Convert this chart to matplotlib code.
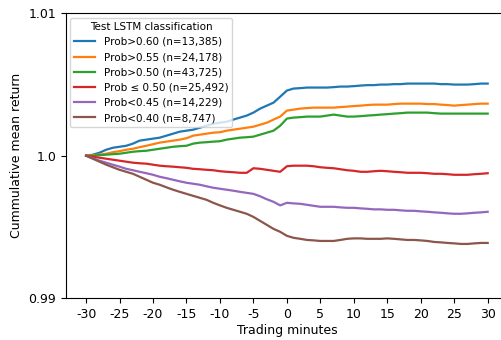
import matplotlib
matplotlib.use("Agg")
import matplotlib.pyplot as plt
import numpy as np

minutes = list(range(-30, 31))

# deviation from 1.0 in percent, one value per minute
prob_gt_060 = [0, 0.007, 0.021, 0.042, 0.056, 0.063, 0.070, 0.085, 0.106, 0.113,
               0.120, 0.127, 0.141, 0.155, 0.169, 0.176, 0.183, 0.197, 0.211, 0.225,
               0.232, 0.239, 0.254, 0.268, 0.282, 0.303, 0.331, 0.352, 0.373, 0.415,
               0.458, 0.472, 0.475, 0.479, 0.479, 0.479, 0.479, 0.482, 0.486, 0.486,
               0.489, 0.493, 0.496, 0.496, 0.500, 0.500, 0.503, 0.503, 0.507, 0.507,
               0.507, 0.507, 0.507, 0.503, 0.503, 0.500, 0.500, 0.500, 0.503, 0.507,
               0.507]
prob_gt_055 = [0, 0.004, 0.007, 0.014, 0.025, 0.032, 0.042, 0.049, 0.060, 0.070,
               0.081, 0.092, 0.099, 0.106, 0.113, 0.123, 0.141, 0.148, 0.155, 0.162,
               0.165, 0.176, 0.183, 0.190, 0.197, 0.204, 0.218, 0.232, 0.254, 0.275,
               0.317, 0.324, 0.331, 0.335, 0.338, 0.338, 0.338, 0.338, 0.342, 0.345,
               0.349, 0.352, 0.356, 0.359, 0.359, 0.359, 0.363, 0.366, 0.366, 0.366,
               0.366, 0.363, 0.363, 0.359, 0.356, 0.352, 0.356, 0.359, 0.363, 0.366,
               0.366]
prob_gt_050 = [0, 0, 0.004, 0.007, 0.011, 0.014, 0.021, 0.028, 0.032, 0.035,
               0.042, 0.049, 0.056, 0.063, 0.067, 0.070, 0.085, 0.092, 0.095, 0.099,
               0.102, 0.113, 0.120, 0.127, 0.130, 0.134, 0.148, 0.162, 0.176, 0.211,
               0.261, 0.268, 0.271, 0.275, 0.275, 0.275, 0.282, 0.289, 0.282, 0.275,
               0.275, 0.278, 0.282, 0.285, 0.289, 0.292, 0.296, 0.299, 0.303, 0.303,
               0.303, 0.303, 0.299, 0.296, 0.296, 0.296, 0.296, 0.296, 0.296, 0.296,
               0.296]
prob_le_050 = [0, -0.007, -0.014, -0.021, -0.028, -0.035, -0.042, -0.049, -0.053, -0.056,
               -0.063, -0.070, -0.074, -0.077, -0.081, -0.085, -0.092, -0.095, -0.099, -0.102,
               -0.109, -0.113, -0.116, -0.120, -0.120, -0.088, -0.092, -0.099, -0.106, -0.113,
               -0.074, -0.070, -0.070, -0.070, -0.074, -0.081, -0.085, -0.088, -0.095, -0.102,
               -0.106, -0.113, -0.113, -0.109, -0.106, -0.109, -0.113, -0.116, -0.120, -0.120,
               -0.120, -0.123, -0.127, -0.127, -0.130, -0.134, -0.134, -0.134, -0.130, -0.127,
               -0.123]
prob_lt_045 = [0, -0.018, -0.035, -0.049, -0.063, -0.077, -0.092, -0.102, -0.113, -0.123,
               -0.134, -0.148, -0.158, -0.169, -0.180, -0.190, -0.197, -0.204, -0.215, -0.225,
               -0.232, -0.239, -0.246, -0.254, -0.261, -0.268, -0.285, -0.306, -0.324, -0.349,
               -0.331, -0.335, -0.338, -0.345, -0.352, -0.359, -0.359, -0.359, -0.363, -0.366,
               -0.366, -0.370, -0.373, -0.377, -0.377, -0.380, -0.380, -0.384, -0.387, -0.387,
               -0.391, -0.394, -0.398, -0.401, -0.405, -0.408, -0.408, -0.405, -0.401, -0.398,
               -0.394]
prob_lt_040 = [0, -0.021, -0.042, -0.063, -0.081, -0.099, -0.113, -0.127, -0.148, -0.169,
               -0.190, -0.204, -0.222, -0.239, -0.254, -0.268, -0.282, -0.296, -0.310, -0.331,
               -0.349, -0.366, -0.380, -0.394, -0.408, -0.430, -0.458, -0.486, -0.514, -0.535,
               -0.563, -0.577, -0.584, -0.592, -0.595, -0.599, -0.599, -0.599, -0.592, -0.584,
               -0.581, -0.581, -0.584, -0.584, -0.584, -0.581, -0.584, -0.588, -0.592, -0.592,
               -0.595, -0.599, -0.606, -0.609, -0.613, -0.616, -0.620, -0.620, -0.616, -0.613,
               -0.613]

series = [prob_gt_060, prob_gt_055, prob_gt_050, prob_le_050, prob_lt_045, prob_lt_040]
labels = ["Prob>0.60 (n=13,385)", "Prob>0.55 (n=24,178)", "Prob>0.50 (n=43,725)",
          "Prob \u2264 0.50 (n=25,492)", "Prob<0.45 (n=14,229)", "Prob<0.40 (n=8,747)"]

plt.rcParams['axes.unicode_minus'] = False

fig = plt.figure(figsize=(5.02, 3.4), dpi=100)
ax = fig.add_axes([0.1315, 0.1235, 0.88, 0.837])

for vals, lab in zip(series, labels):
    ax.plot(minutes, 1 + np.array(vals) / 100, label=lab, linewidth=1.6)

ax.set_xlim(-33, 33)
ax.set_ylim(0.99, 1.01)
ax.set_xticks(range(-30, 31, 5))
ax.set_yticks([0.99, 1.0, 1.01])
ax.set_yticklabels(["0.99", "1.0", "1.01"])
ax.tick_params(labelsize=9)
ax.set_xlabel("Trading minutes", fontsize=9, labelpad=2)
ax.set_ylabel("Cummulative mean return", fontsize=9)

ax.legend(title="Test LSTM classification", loc="upper left", fontsize=7.5,
          title_fontsize=7.5, borderaxespad=0.4)

fig.savefig("out.png", dpi=100)
